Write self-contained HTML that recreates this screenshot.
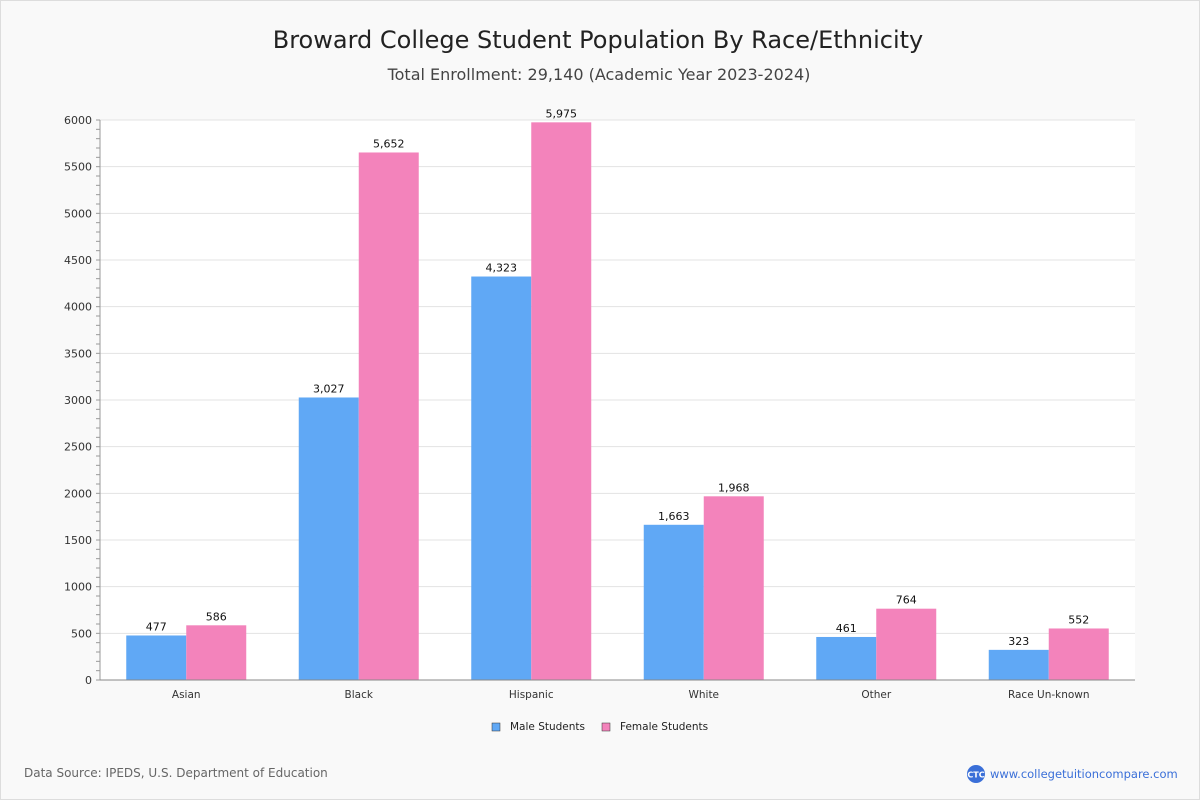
<!DOCTYPE html>
<html><head><meta charset="utf-8"><style>
body{margin:0;background:#fff;}
#wrap{width:1198px;height:798px;border:1px solid #ddd;background:#f9f9f9;position:relative;font-family:"DejaVu Sans","Liberation Sans",sans-serif;}
</style></head><body>
<div id="wrap">
<svg id="chart" width="1198" height="798" xmlns="http://www.w3.org/2000/svg">
<text x="597" y="47" text-anchor="middle" font-size="24" fill="#222">Broward College Student Population By Race/Ethnicity</text>
<text x="598" y="79" text-anchor="middle" font-size="16" fill="#444">Total Enrollment: 29,140 (Academic Year 2023-2024)</text>
<rect x="99" y="119" width="1035" height="560" fill="#fff"/>
<g id="grid"></g><g id="bars"></g><g id="axes"></g>
<g>
<rect x="491" y="722" width="8" height="8" fill="#60a8f5" stroke="#333" stroke-width="0.5"/>
<text x="509" y="729" font-size="10.5" fill="#222">Male Students</text>
<rect x="601" y="722" width="8" height="8" fill="#f383bb" stroke="#333" stroke-width="0.5"/>
<text x="619" y="729" font-size="10.5" fill="#222">Female Students</text>
</g>
<text x="23" y="776" font-size="12" fill="#666">Data Source: IPEDS, U.S. Department of Education</text>
<circle cx="975" cy="773" r="9" fill="#3a6fd8"/>
<text x="975" y="776.5" text-anchor="middle" font-size="8" fill="#fff" font-weight="bold">CTC</text>
<text x="989" y="777" font-size="11.5" fill="#3a6fd8">www.collegetuitioncompare.com</text>
</svg></div>
<script>
const categories=["Asian","Black","Hispanic","White","Other","Race Un-known"];
const maleValues=[477,3027,4323,1663,461,323];
const femaleValues=[586,5652,5975,1968,764,552];
const yTicks=[0,500,1000,1500,2000,2500,3000,3500,4000,4500,5000,5500,6000];
const NS="http://www.w3.org/2000/svg";
const x0=99,x1=1134,yTop=119,yBot=679,yMax=6000;
const y=v=>yBot-(v/yMax)*(yBot-yTop);
const gw=(x1-x0)/categories.length;
const xc=i=>x0+gw*(i+0.5);
function mk(t,a,p,txt){const e=document.createElementNS(NS,t);for(const k in a)e.setAttribute(k,a[k]);if(txt!==undefined)e.textContent=txt;p.appendChild(e);return e;}
const grid=document.getElementById('grid'),bars=document.getElementById('bars'),axes=document.getElementById('axes');
yTicks.forEach(v=>{
 const g=mk('line',{x1:x0,x2:x1,y1:y(v),y2:y(v),stroke:'#e3e3e3'},grid);
 
 
 const t=mk('text',{x:x0-8,y:y(v)+4,'text-anchor':'end','font-size':11,fill:'#333'},axes,String(v));
 
 
});
for(let v=0;v<=yMax;v+=100){mk('line',{x1:x0-4,x2:x0,y1:y(v),y2:y(v),stroke:'#999'},axes);}
mk('line',{x1:x0,x2:x0,y1:yTop,y2:yBot,stroke:'#999'},axes);
mk('line',{x1:x0,x2:x1,y1:yBot,y2:yBot,stroke:'#888'},axes);
const bw=60;
categories.forEach((c,i)=>{
 const cx=xc(i);
 [[maleValues[i],cx-bw,'#60a8f5','male'],[femaleValues[i],cx,'#f383bb','female']].forEach(([v,bx,col,s])=>{
  const r=mk('rect',{x:bx,y:y(v),width:bw,height:yBot-y(v),fill:col},bars);
  
  
  const t=mk('text',{x:bx+bw/2,y:y(v)-5,'text-anchor':'middle','font-size':11,fill:'#111'},bars,v.toLocaleString('en-US'));
  
  
 });
 const l=mk('text',{x:cx,y:yBot+18,'text-anchor':'middle','font-size':10.5,fill:'#333'},axes,c);
 
 
});
</script>
</body></html>
